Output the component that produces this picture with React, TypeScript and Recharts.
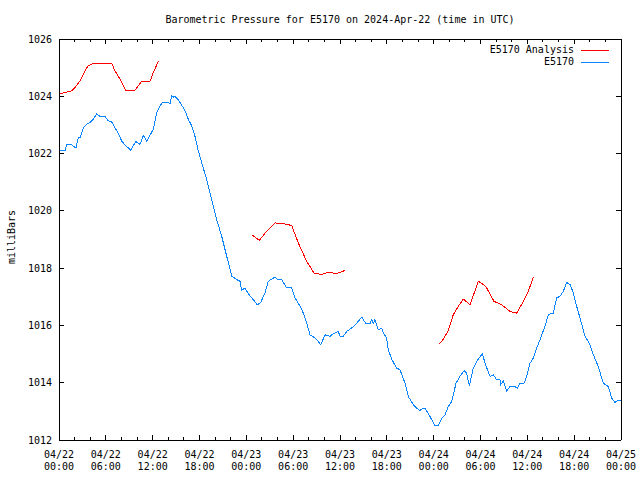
import { Line, LineChart, XAxis, YAxis } from 'recharts';

const FONT = '"DejaVu Sans Mono", monospace';

// hours since 2024-04-22 00:00 UTC and station pressure (mb)
const e5170Hours = [
  0, 0.77, 0.99, 1.63, 1.83, 2.18, 2.47, 2.69, 3.11, 3.55, 3.97, 4.39, 4.83, 5.25, 5.89, 6.32, 6.75,
  7.17, 7.6, 8.03, 8.46, 8.88, 9.19, 9.52, 9.86, 10.38, 10.8, 11.24, 11.66, 12.08, 12.52, 12.94,
  13.29, 14.0, 14.22, 14.44, 14.64, 14.86, 15.28, 15.72, 16.14, 16.56, 17.0, 17.42, 17.85, 18.28,
  18.92, 19.56, 20.2, 20.84, 21.48, 22.13, 22.77, 23.19, 23.41, 23.83, 24.25, 24.89, 25.4, 25.84,
  26.39, 26.81, 27.67, 27.97, 28.53, 29.17, 29.81, 30.23, 30.88, 31.3, 31.73, 32.16, 32.8, 33.22,
  33.53, 34.08, 34.72, 35.14, 35.78, 36.0, 36.42, 36.86, 37.5, 38.14, 38.78, 39.33, 39.84, 40.06,
  40.27, 40.48, 40.91, 41.34, 41.55, 41.98, 42.19, 42.62, 43.26, 43.69, 44.33, 44.75, 45.39, 45.83,
  46.25, 46.6, 46.89, 47.53, 48.17, 48.59, 49.03, 49.45, 49.87, 50.31, 50.86, 51.37, 51.89, 52.23,
  52.57, 53.08, 53.64, 54.23, 54.7, 55.22, 55.64, 56.08, 56.5, 56.59, 56.92, 57.36, 57.78, 58.42,
  58.72, 59.06, 59.57, 59.92, 60.34, 60.77, 61.2, 61.62, 62.26, 62.69, 63.33, 63.76, 64.18, 64.61,
  65.04, 65.47, 65.89, 66.32, 66.75, 67.39, 68.03, 68.45, 69.09, 69.73, 70.37, 70.81, 71.23, 71.53,
  72,
];
const e5170Pressure = [
  1022.1, 1022.1, 1022.3, 1022.3, 1022.25, 1022.2, 1022.55, 1022.55, 1022.9, 1023.03, 1023.08,
  1023.2, 1023.38, 1023.3, 1023.3, 1023.14, 1023.1, 1022.9, 1022.7, 1022.44, 1022.29, 1022.2,
  1022.11, 1022.28, 1022.42, 1022.32, 1022.64, 1022.44, 1022.64, 1022.85, 1023.43, 1023.67, 1023.8,
  1023.8, 1023.72, 1024.02, 1023.97, 1024.0, 1023.88, 1023.69, 1023.5, 1023.2, 1022.97, 1022.6,
  1022.09, 1021.68, 1021.1, 1020.4, 1019.7, 1019.12, 1018.42, 1017.72, 1017.6, 1017.54, 1017.22,
  1017.31, 1017.11, 1016.9, 1016.72, 1016.8, 1017.13, 1017.54, 1017.69, 1017.6, 1017.6, 1017.31,
  1017.31, 1016.96, 1016.67, 1016.43, 1016.08, 1015.67, 1015.56, 1015.44, 1015.33, 1015.67,
  1015.62, 1015.71, 1015.79, 1015.62, 1015.62, 1015.79, 1015.91, 1016.08, 1016.29, 1016.06,
  1016.06, 1016.2, 1016.08, 1016.2, 1015.85, 1015.9, 1015.73, 1015.56, 1015.15, 1014.82, 1014.51,
  1014.45, 1013.98, 1013.52, 1013.23, 1013.11, 1013.03, 1013.11, 1013.11, 1012.82, 1012.5, 1012.5,
  1012.76, 1012.88, 1013.17, 1013.34, 1013.98, 1014.22, 1014.42, 1014.33, 1013.89, 1014.51,
  1014.8, 1015.0, 1014.59, 1014.22, 1014.28, 1014.1, 1014.1, 1013.93, 1014.07, 1013.72, 1013.87,
  1013.87, 1013.8, 1013.98, 1013.98, 1014.22, 1014.68, 1014.86, 1015.21, 1015.5, 1015.97, 1016.38,
  1016.43, 1016.96, 1017.02, 1017.19, 1017.5, 1017.43, 1017.14, 1016.67, 1016.26, 1015.62,
  1015.33, 1014.98, 1014.57, 1013.98, 1013.87, 1013.46, 1013.31, 1013.38, 1013.38,
];

// analysis runs, null separates the three segments
const analysisHours = [
  0.1, 0.77, 1.63, 2.05, 2.69, 3.33, 3.75, 4.39, 6.75, 7.17, 7.81, 8.58, 9.1, 9.74, 10.59, 11.66,
  12.08, 12.72, 18, 24.76, 25.66, 26.61, 27.67, 28.74, 29.81, 30.66, 31.73, 32.67, 33.66, 34.5,
  35.14, 35.57, 36.64, 42, 48.72, 49.24, 49.88, 50.52, 51.16, 51.8, 52.66, 53.72, 54.36, 54.79,
  55.73, 56.71, 57.78, 58.64, 59.49, 60.13, 60.77,
];
const analysisPressure = [
  1024.08, 1024.13, 1024.19, 1024.31, 1024.54, 1024.89, 1025.07, 1025.15, 1025.15, 1024.89, 1024.6,
  1024.19, 1024.19, 1024.22, 1024.52, 1024.52, 1024.83, 1025.22, null, 1019.15, 1018.97, 1019.29,
  1019.58, 1019.55, 1019.49, 1018.88, 1018.24, 1017.83, 1017.78, 1017.86, 1017.83, 1017.81,
  1017.92, null, 1015.35, 1015.52, 1015.83, 1016.38, 1016.67, 1016.92, 1016.72, 1017.54, 1017.43,
  1017.31, 1016.84, 1016.72, 1016.49, 1016.43, 1016.84, 1017.19, 1017.69,
];

const xTicks = [
  0, 2, 4, 6, 8, 10, 12, 14, 16, 18, 20, 22, 24, 26, 28, 30, 32, 34, 36, 38, 40, 42, 44, 46, 48,
  50, 52, 54, 56, 58, 60, 62, 64, 66, 68, 70, 72,
];
const xTickDates = ['04/22', '04/22', '04/22', '04/22', '04/23', '04/23', '04/23', '04/23', '04/24', '04/24', '04/24', '04/24', '04/25'];
const xTickTimes = ['00:00', '06:00', '12:00', '18:00', '00:00', '06:00', '12:00', '18:00', '00:00', '06:00', '12:00', '18:00', '00:00'];
const yTicks = [1012, 1014, 1016, 1018, 1020, 1022, 1024, 1026];

const e5170Data = e5170Hours.map((t, i) => ({ t, p: e5170Pressure[i] }));
const analysisData = analysisHours.map((t, i) => ({ t, p: analysisPressure[i] }));

const RED = '#ff0000';
const BLUE = '#0a84ff';

const BottomTick = ({ x, y, payload }: any) => {
  const t = payload.value;
  const major = t % 6 === 0;
  const i = t / 6;
  return (
    <g>
      <line x1={x} y1={y} x2={x} y2={y - (major ? 5 : 3)} stroke="#000" shapeRendering="crispEdges" />
      {major && (
        <text textAnchor="middle" fontFamily={FONT} fontSize={10} fill="#000">
          <tspan x={x} y={y + 18}>{xTickDates[i]}</tspan>
          <tspan x={x} y={y + 30}>{xTickTimes[i]}</tspan>
        </text>
      )}
    </g>
  );
};

const TopTick = ({ x, y, payload }: any) => {
  const major = payload.value % 6 === 0;
  return <line x1={x} y1={y} x2={x} y2={y + (major ? 5 : 3)} stroke="#000" shapeRendering="crispEdges" />;
};

const LeftTick = ({ x, y, payload }: any) => (
  <g>
    <line x1={x} y1={y} x2={x + 5} y2={y} stroke="#000" shapeRendering="crispEdges" />
    <text x={x - 7} y={y + 3.5} textAnchor="end" fontFamily={FONT} fontSize={10} fill="#000">
      {payload.value}
    </text>
  </g>
);

const RightTick = ({ x, y }: any) => (
  <line x1={x} y1={y} x2={x - 5} y2={y} stroke="#000" shapeRendering="crispEdges" />
);

const axisLine = { stroke: '#000', shapeRendering: 'crispEdges' };

export default function App() {
  return (
    <div
      style={{
        position: 'absolute',
        left: 0,
        top: 0,
        width: 640,
        height: 480,
        background: '#fff',
        fontFamily: FONT,
        fontSize: 10,
        color: '#000',
      }}
    >
      <LineChart width={640} height={480} margin={{ top: 0, right: 0, bottom: 0, left: 0 }}>
        <XAxis
          xAxisId="b"
          type="number"
          dataKey="t"
          domain={[0, 72]}
          ticks={xTicks}
          interval={0}
          height={40}
          tickSize={0}
          tickMargin={0}
          axisLine={axisLine}
          tickLine={false}
          tick={<BottomTick />}
          allowDataOverflow
        />
        <XAxis
          xAxisId="top"
          orientation="top"
          type="number"
          dataKey="t"
          domain={[0, 72]}
          ticks={xTicks}
          interval={0}
          height={39}
          tickSize={0}
          tickMargin={0}
          axisLine={axisLine}
          tickLine={false}
          tick={<TopTick />}
          allowDataOverflow
        />
        <YAxis
          yAxisId="l"
          type="number"
          domain={[1012, 1026]}
          ticks={yTicks}
          interval={0}
          width={59}
          tickSize={0}
          tickMargin={0}
          axisLine={axisLine}
          tickLine={false}
          tick={<LeftTick />}
          allowDataOverflow
        />
        <YAxis
          yAxisId="r"
          orientation="right"
          type="number"
          domain={[1012, 1026]}
          ticks={yTicks}
          interval={0}
          width={19}
          tickSize={0}
          tickMargin={0}
          axisLine={axisLine}
          tickLine={false}
          tick={<RightTick />}
          allowDataOverflow
        />
        <Line
          xAxisId="b"
          yAxisId="l"
          data={analysisData}
          dataKey="p"
          name="E5170 Analysis"
          type="linear"
          stroke={RED}
          strokeWidth={1}
          shapeRendering="crispEdges"
          dot={false}
          connectNulls={false}
          isAnimationActive={false}
        />
        <Line
          xAxisId="b"
          yAxisId="l"
          data={e5170Data}
          dataKey="p"
          name="E5170"
          type="linear"
          stroke={BLUE}
          strokeWidth={1}
          shapeRendering="crispEdges"
          dot={false}
          isAnimationActive={false}
        />
      </LineChart>

      <div
        style={{
          position: 'absolute',
          left: 59,
          top: 14,
          width: 562,
          textAlign: 'center',
          lineHeight: '12px',
          whiteSpace: 'pre',
        }}
      >
        Barometric Pressure for E5170 on 2024-Apr-22 (time in UTC)
      </div>

      <div
        style={{
          position: 'absolute',
          left: 12,
          top: 237,
          lineHeight: '12px',
          transform: 'translate(-50%, -50%) rotate(-90deg)',
          whiteSpace: 'pre',
        }}
      >
        milliBars
      </div>

      <div style={{ position: 'absolute', right: 31, top: 44, lineHeight: '12px' }}>
        {[
          { label: 'E5170 Analysis', color: RED },
          { label: 'E5170', color: BLUE },
        ].map((item) => (
          <div key={item.label} style={{ display: 'flex', justifyContent: 'flex-end', alignItems: 'center', height: 12 }}>
            <span style={{ whiteSpace: 'pre' }}>{item.label}</span>
            <svg width={28} height={12} style={{ marginLeft: 7, display: 'block' }}>
              <line x1={0} y1={6.5} x2={28} y2={6.5} stroke={item.color} strokeWidth={1} />
            </svg>
          </div>
        ))}
      </div>
    </div>
  );
}
